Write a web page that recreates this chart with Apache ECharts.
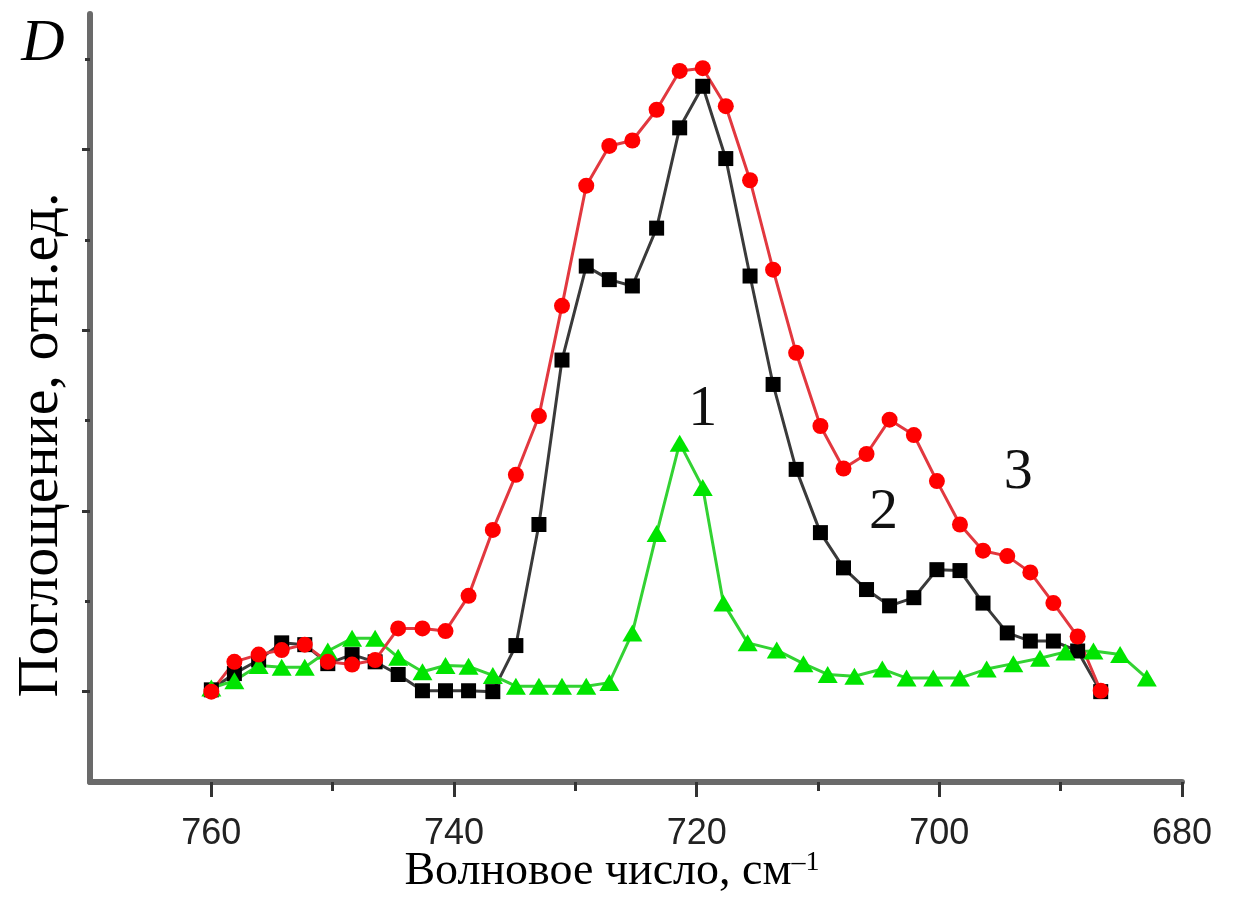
<!DOCTYPE html>
<html>
<head>
<meta charset="utf-8">
<script src="https://cdn.jsdelivr.net/npm/echarts@6/dist/echarts.min.js"></script>
<style>
html,body{margin:0;padding:0;background:#fff;}
#chart{width:1236px;height:899px;}
</style>
</head>
<body>
<div id="chart"></div>
<script>
// Wavenumbers (cm^-1) for curves 2 and 3
const waveRB = [760.0, 758.1, 756.1, 754.2, 752.3, 750.4, 748.4, 746.5, 744.6, 742.6,
  740.7, 738.8, 736.8, 734.9, 733.0, 731.1, 729.1, 727.2, 725.3, 723.3,
  721.4, 719.5, 717.6, 715.6, 713.7, 711.8, 709.8, 707.9, 706.0, 704.1,
  702.1, 700.2, 698.3, 696.4, 694.4, 692.5, 690.6, 688.6, 686.7];
// Curve 2 (black squares)
const absorb2 = [0.02, 0.20, 0.35, 0.54, 0.52, 0.31, 0.41, 0.33, 0.19, 0.01,
  0.01, 0.01, 0.00, 0.51, 1.85, 3.67, 4.71, 4.56, 4.49, 5.13,
  6.24, 6.70, 5.90, 4.60, 3.40, 2.46, 1.76, 1.37, 1.13, 0.95,
  1.04, 1.35, 1.34, 0.98, 0.65, 0.56, 0.56, 0.45, 0.00];
// Curve 3 (red circles)
const absorb3 = [0.00, 0.33, 0.41, 0.46, 0.52, 0.33, 0.30, 0.35, 0.70, 0.70,
  0.67, 1.06, 1.79, 2.40, 3.05, 4.27, 5.60, 6.04, 6.10, 6.44,
  6.87, 6.90, 6.48, 5.66, 4.67, 3.75, 2.94, 2.47, 2.63, 3.01,
  2.84, 2.33, 1.85, 1.56, 1.50, 1.32, 0.98, 0.61, 0.01];
// Curve 1 (green triangles)
const waveG = [760.0, 758.1, 756.1, 754.2, 752.3, 750.4, 748.4, 746.5, 744.6, 742.6,
  740.7, 738.8, 736.8, 734.9, 733.0, 731.1, 729.1, 727.2, 725.3, 723.3,
  721.4, 719.5, 717.8, 715.8, 713.4, 711.2, 709.2, 707.0, 704.7, 702.7,
  700.5, 698.3, 696.1, 693.9, 691.7, 689.6, 687.3, 685.1, 682.9];
const absorb1 = [0.04, 0.12, 0.29, 0.27, 0.27, 0.45, 0.59, 0.59, 0.38, 0.22,
  0.29, 0.28, 0.18, 0.06, 0.06, 0.06, 0.06, 0.10, 0.65, 1.75,
  2.75, 2.26, 0.98, 0.54, 0.46, 0.31, 0.19, 0.17, 0.25, 0.15,
  0.15, 0.15, 0.25, 0.31, 0.37, 0.44, 0.45, 0.41, 0.15];

// Axis tick values / labels
const xMajorTicks = [760, 740, 720, 700, 680];
const xMinorTicks = [750, 730, 710, 690];
const yMajorTicks = [0, 2, 4, 6];
const yMinorTicks = [1, 3, 5, 7];

// Curve number annotations
const curveLabels = ['1', '2', '3'];
const curveLabelX = [719.5, 704.6, 693.5];
const curveLabelY = [3.12, 1.98, 2.42];

const xTitle = 'Волновое число, см';
const xTitleSup = '–1';
const yTitle = 'Поглощение, отн.ед.';
const cornerLabel = 'D';

function zip(xs, ys) { return xs.map((x, i) => [x, ys[i]]); }

const axisColor = '#6a6a6a';
const tickColor = '#333';

const chart = echarts.init(document.getElementById('chart'), null, {renderer: 'canvas'});

function annot(i) {
  return {
    symbol: 'circle', symbolSize: 1,
    itemStyle: {color: 'rgba(0,0,0,0)'},
    label: {show: true, position: 'inside', formatter: curveLabels[i], color: '#111',
      fontFamily: '"Liberation Serif", "Times New Roman", serif', fontSize: 58},
    data: [{coord: [curveLabelX[i], curveLabelY[i]]}]
  };
}

const option = {
  backgroundColor: '#fff',
  animation: false,
  grid: {left: 90, right: 54, top: 14, bottom: 117, containLabel: false},
  xAxis: [{
    type: 'value', inverse: true, min: 680, max: 770, position: 'bottom',
    splitLine: {show: false},
    axisLine: {show: true, onZero: false, lineStyle: {color: axisColor, width: 6}},
    axisTick: {show: true, customValues: xMajorTicks, length: 15, lineStyle: {color: tickColor, width: 3}},
    axisLabel: {show: true, customValues: xMajorTicks, margin: 34, color: '#222',
      fontFamily: '"Liberation Sans", Arial, sans-serif', fontSize: 36}
  }, {
    type: 'value', inverse: true, min: 680, max: 770, position: 'bottom',
    splitLine: {show: false},
    axisLine: {show: false, onZero: false},
    axisTick: {show: true, customValues: xMinorTicks, length: 9, lineStyle: {color: tickColor, width: 3}},
    axisLabel: {show: false}
  }],
  yAxis: [{
    type: 'value', min: -1, max: 7.5, position: 'left',
    splitLine: {show: false},
    axisLine: {show: true, onZero: false, lineStyle: {color: axisColor, width: 6}},
    axisTick: {show: true, customValues: yMajorTicks, length: 8, lineStyle: {color: tickColor, width: 3}},
    axisLabel: {show: false}
  }, {
    type: 'value', min: -1, max: 7.5, position: 'left',
    splitLine: {show: false},
    axisLine: {show: false, onZero: false},
    axisTick: {show: true, customValues: yMinorTicks, length: 5, lineStyle: {color: tickColor, width: 3}},
    axisLabel: {show: false}
  }],
  series: [{
    name: '2', type: 'line', data: zip(waveRB, absorb2),
    symbol: 'rect', symbolSize: 15,
    itemStyle: {color: '#000'},
    lineStyle: {color: '#3a3a3a', width: 3},
    markPoint: annot(1)
  }, {
    name: '1', type: 'line', data: zip(waveG, absorb1),
    symbol: 'triangle', symbolSize: [20, 17],
    itemStyle: {color: '#00e400'},
    lineStyle: {color: '#33d233', width: 3},
    markPoint: annot(0)
  }, {
    name: '3', type: 'line', data: zip(waveRB, absorb3),
    symbol: 'circle', symbolSize: 16,
    itemStyle: {color: '#ff0000'},
    lineStyle: {color: '#e2383f', width: 3},
    markPoint: annot(2)
  }],
  graphic: [{
    type: 'text', x: 43, y: 44,
    style: {text: cornerLabel, fill: '#000', font: 'italic 60px "Liberation Serif", "Times New Roman", serif',
      textAlign: 'center', textVerticalAlign: 'middle'}
  }, {
    type: 'text', x: 42, y: 445, rotation: Math.PI / 2,
    style: {text: yTitle, fill: '#000', font: '58px "Liberation Serif", "Times New Roman", serif',
      textAlign: 'center', textVerticalAlign: 'middle'}
  }, {
    type: 'text', x: 612, y: 872,
    style: {
      text: xTitle + '{sup|' + xTitleSup + '}',
      fill: '#000', font: '46px "Liberation Serif", "Times New Roman", serif',
      textAlign: 'center', textVerticalAlign: 'middle',
      rich: {sup: {fontSize: 28, fontFamily: '"Liberation Serif", serif', verticalAlign: 'top', fill: '#000'}}
    }
  }]
};
chart.setOption(option);
</script>
</body>
</html>
